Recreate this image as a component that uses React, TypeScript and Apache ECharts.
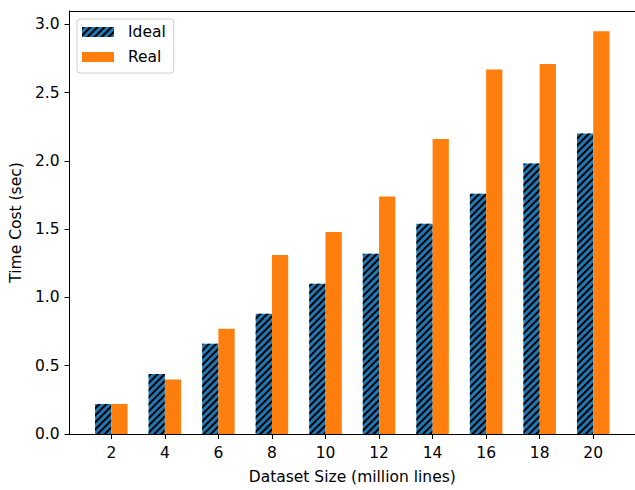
import React, { useEffect, useRef } from "react";
import * as echarts from "echarts";

const sizes = [2, 4, 6, 8, 10, 12, 14, 16, 18, 20];
const idealValues = [0.22, 0.44, 0.66, 0.88, 1.1, 1.32, 1.54, 1.76, 1.98, 2.2];
const realValues = [0.22, 0.4, 0.77, 1.31, 1.48, 1.74, 2.16, 2.67, 2.71, 2.95];
const yTicks = [0, 0.5, 1.0, 1.5, 2.0, 2.5, 3.0];

const FONT = "DejaVu Sans";
const FS = 15.5;

export default function App() {
  const ref = useRef<HTMLDivElement>(null);
  useEffect(() => {
    document.body.style.margin = "0";
    const chart = echarts.init(ref.current!, null, { renderer: "svg" });
    const pxPerUnit = 27.1;
    chart.setOption({
      animation: false,
      backgroundColor: "#ffffff",
      textStyle: { fontFamily: FONT },
      grid: {
        left: 67,
        top: 11,
        right: -4,
        bottom: 53,
        show: false,
        containLabel: false,
      },
      legend: {
        left: 77,
        top: 19,
        orient: "vertical",
        itemWidth: 32,
        itemHeight: 10,
        itemGap: 9,
        padding: [5, 8, 8, 5],
        borderColor: "#d0d0d0",
        borderWidth: 1,
        borderRadius: 3,
        backgroundColor: "rgba(255,255,255,0.8)",
        icon: "rect",
        textStyle: { fontFamily: FONT, fontSize: FS, color: "#000", padding: [0, 0, 0, 9] },
        data: ["Ideal", "Real"],
      },
      xAxis: [
        {
          type: "value",
          min: 0.44,
          max: 21.56,
          name: "Dataset Size (million lines)",
          nameLocation: "middle",
          nameGap: 35,
          nameTextStyle: { fontFamily: FONT, fontSize: FS, color: "#000" },
          splitLine: { show: false },
          axisLine: { show: true, lineStyle: { color: "#000", width: 1 } },
          axisTick: { show: true, length: 5, lineStyle: { color: "#000" }, customValues: sizes },
          axisLabel: {
            fontFamily: FONT,
            fontSize: FS,
            color: "#000",
            margin: 11,
            customValues: sizes,
            formatter: (v: number) => String(v),
          },
        },
        {
          type: "value",
          position: "top",
          min: 0.44,
          max: 21.56,
          splitLine: { show: false },
          axisLine: { show: true, lineStyle: { color: "#000", width: 1 } },
          axisTick: { show: false },
          axisLabel: { show: false },
        },
      ],
      yAxis: {
        type: "value",
        min: 0,
        max: 3.0975,
        name: "Time Cost (sec)",
        nameLocation: "middle",
        nameGap: 44,
        nameTextStyle: { fontFamily: FONT, fontSize: FS, color: "#000" },
        splitLine: { show: false },
        axisLine: { show: true, lineStyle: { color: "#000", width: 1 } },
        axisTick: { show: true, length: 5, lineStyle: { color: "#000" }, customValues: yTicks },
        axisLabel: {
          fontFamily: FONT,
          fontSize: FS,
          color: "#000",
          margin: 10,
          customValues: yTicks,
          formatter: (v: number) => v.toFixed(1),
        },
      },
      series: [
        {
          name: "Ideal",
          type: "bar",
          barWidth: 0.6 * pxPerUnit,
          barGap: "0%",
          data: sizes.map((s, i) => [s, idealValues[i]]),
          itemStyle: {
            color: "#1f77b4",
            decal: {
              symbol: "rect",
              symbolSize: 1,
              color: "#000",
              dashArrayX: [1, 0],
              dashArrayY: [1.5, 2.7],
              rotation: -Math.PI / 4,
            },
          },
        },
        {
          name: "Real",
          type: "bar",
          barWidth: 0.6 * pxPerUnit,
          barGap: "0%",
          data: sizes.map((s, i) => [s, realValues[i]]),
          itemStyle: { color: "#ff7f0e" },
        },
      ],
    });
    return () => chart.dispose();
  }, []);
  return <div ref={ref} style={{ width: 635, height: 490 }} />;
}
